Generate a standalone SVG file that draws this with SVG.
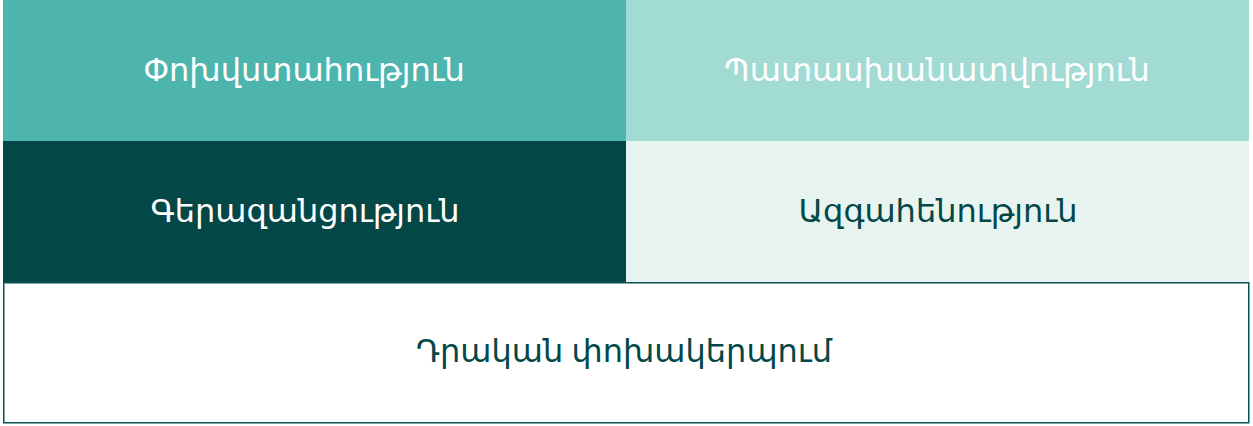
<svg xmlns="http://www.w3.org/2000/svg" width="1253" height="426" viewBox="0 0 1253 426">
<style>
text{font-family:"Noto Sans","DejaVu Sans",sans-serif;font-size:32px;text-anchor:middle}
.w{fill:#ffffff}.d{fill:#034747}
</style>
<rect width="1253" height="426" fill="#ffffff"/>
<g id="node-trust"><rect x="3" y="0" width="623" height="141" fill="#4DB5AD"/><text class="w" x="304" y="81">Փոխվստահություն</text></g>
<g id="node-responsibility"><rect x="626" y="0" width="623" height="141" fill="#A2DAD4"/><text class="w" x="937" y="81">Պատասխանատվություն</text></g>
<g id="node-excellence"><rect x="3" y="141" width="623" height="141" fill="#034747"/><text class="w" x="305" y="222">Գերազանցություն</text></g>
<g id="node-dedication"><rect x="626" y="141" width="623" height="141" fill="#E8F4EF"/><text class="d" x="938" y="222">Ազգահենություն</text></g>
<g id="node-transformation"><rect x="3.75" y="282.75" width="1245" height="140" fill="#ffffff" stroke="#0B5252" stroke-width="1.5"/><text class="d" x="624" y="362">Դրական փոխակերպում</text></g>
<g id="connectors"/>
</svg>
